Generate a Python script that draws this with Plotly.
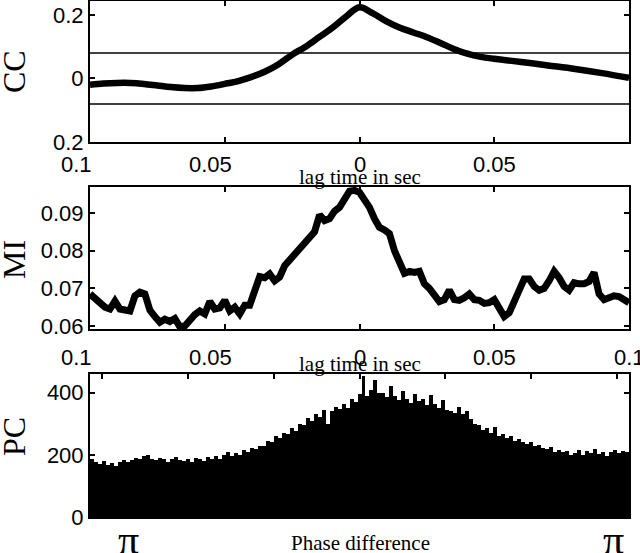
import numpy as np
import plotly.graph_objects as go

# ---------------- data ----------------
cc_lag = [-0.100, -0.095, -0.090, -0.085, -0.080, -0.075, -0.070, -0.065, -0.060, -0.055,
          -0.050, -0.045, -0.040, -0.035, -0.030, -0.025, -0.020, -0.015, -0.010, -0.005,
          0.000, 0.005, 0.010, 0.015, 0.020, 0.025, 0.030, 0.035, 0.040, 0.045,
          0.050, 0.060, 0.070, 0.080, 0.090, 0.100]
cc_val = [-0.020, -0.016, -0.014, -0.014, -0.017, -0.022, -0.027, -0.030, -0.030, -0.025,
          -0.017, -0.008, 0.005, 0.022, 0.045, 0.075, 0.100, 0.130, 0.160, 0.195,
          0.224, 0.205, 0.180, 0.160, 0.145, 0.130, 0.112, 0.093, 0.078, 0.068,
          0.062, 0.052, 0.041, 0.030, 0.017, 0.002]
cc_threshold = [0.08, -0.08]

mi_val = [0.0685, 0.0672, 0.0660, 0.0650, 0.0645, 0.0666, 0.0645, 0.0642, 0.0640, 0.0680,
          0.0690, 0.0685, 0.0642, 0.0625, 0.0610, 0.0618, 0.0612, 0.0620, 0.0598, 0.0600,
          0.0618, 0.0630, 0.0640, 0.0632, 0.0665, 0.0645, 0.0648, 0.0668, 0.0640, 0.0650,
          0.0632, 0.0655, 0.0655, 0.0700, 0.0731, 0.0728, 0.0738, 0.0720, 0.0730, 0.0760,
          0.0775, 0.0790, 0.0810, 0.0820, 0.0840, 0.0850, 0.0895, 0.0880, 0.0885, 0.0905,
          0.0915, 0.0935, 0.0958, 0.0960, 0.0955, 0.0935, 0.0915, 0.0885, 0.0862, 0.0855,
          0.0845, 0.0800, 0.0770, 0.0740, 0.0745, 0.0742, 0.0745, 0.0712, 0.0700, 0.0680,
          0.0665, 0.0670, 0.0695, 0.0670, 0.0668, 0.0675, 0.0685, 0.0670, 0.0668, 0.0660,
          0.0662, 0.0670, 0.0650, 0.0625, 0.0635, 0.0665, 0.0690, 0.0725, 0.0725, 0.0705,
          0.0695, 0.0700, 0.0720, 0.0745, 0.0728, 0.0705, 0.0695, 0.0715, 0.0712, 0.0712,
          0.0718, 0.0742, 0.0685, 0.0670, 0.0675, 0.0680, 0.0678, 0.0670, 0.0662]
mi_lag = np.linspace(-0.1, 0.1, len(mi_val))

pc_count = [185, 178, 172, 180, 168, 175, 165, 178, 182, 176, 184, 190, 186, 195, 200, 188,
            182, 190, 185, 176, 188, 194, 182, 180, 186, 178, 190, 185, 180, 192, 186, 195,
            188, 200, 210, 195,
            205, 198, 215, 210, 222, 218, 230,
            228, 245, 240, 262, 255, 270, 266, 285, 278, 300,
            295, 318, 310, 330, 322, 345, 300, 340, 355, 348,
            362, 350, 380, 370, 395, 455, 388, 410, 440, 398,
            400, 385, 420, 390, 375, 405, 380, 368, 395, 372,
            380, 360, 392, 365, 350, 375, 345, 340, 335, 355,
            330, 342, 315, 300, 295, 280, 285, 270, 290, 262,
            268, 255, 260, 245, 252, 240, 235, 242, 228, 232,
            222, 218, 225, 210, 215, 208, 212, 198, 206, 214,
            200, 212, 205, 218, 202, 210, 196, 208, 215, 205, 212, 208]
pc_edges = np.linspace(-np.pi, np.pi, len(pc_count) + 1)
pc_phase = (pc_edges[:-1] + pc_edges[1:]) / 2

lag_ticks = [-0.1, -0.05, 0, 0.05, 0.1]
lag_text_top = ["0.1", "0.05", "0", "0.05", ""]
lag_text_mid = ["0.1", "0.05", "0", "0.05", "0.1"]

# ---------------- figure ----------------
W, H = 640, 553
SANS = "Liberation Sans, Arial, sans-serif"
SERIF = "Liberation Serif, Times New Roman, serif"

def px_x(p):
    return p / W

def px_y(p):
    return 1 - p / H

xdom = [px_x(90), px_x(629)]
dom1 = [px_y(142), px_y(1)]
dom2 = [px_y(329), px_y(187)]
dom3 = [px_y(517), px_y(374)]

fig = go.Figure()
fig.add_trace(go.Scatter(x=cc_lag, y=cc_val, mode="lines", line=dict(color="black", width=6.5, shape="spline"),
                         xaxis="x", yaxis="y", showlegend=False))
for t in cc_threshold:
    fig.add_trace(go.Scatter(x=[-0.1, 0.1], y=[t, t], mode="lines", line=dict(color="black", width=1.5),
                             xaxis="x", yaxis="y", showlegend=False))
fig.add_trace(go.Scatter(x=mi_lag, y=mi_val, mode="lines", line=dict(color="black", width=7),
                         xaxis="x2", yaxis="y2", showlegend=False))
fig.add_trace(go.Bar(x=pc_phase, y=pc_count, marker=dict(color="black", line=dict(width=0)),
                     xaxis="x3", yaxis="y3", showlegend=False))

axis_common = dict(showline=True, linecolor="black", linewidth=2, mirror="ticks", ticks="inside",
                   ticklen=5, tickwidth=1.5, tickcolor="black", showgrid=False, zeroline=False,
                   automargin=False,
                   tickfont=dict(family=SANS, size=22, color="black"))

fig.update_layout(
    template="none",
    width=W, height=H, margin=dict(l=0, r=0, t=0, b=0, pad=0),
    paper_bgcolor="white", plot_bgcolor="white", bargap=0,
    xaxis=dict(domain=xdom, anchor="y", range=[-0.1, 0.1], tickvals=lag_ticks, showticklabels=False, **axis_common),
    yaxis=dict(domain=dom1, anchor="x", range=[-0.2, 0.244], tickvals=[-0.2, 0, 0.2], ticktext=["0.2", "0", "0.2"], **axis_common),
    xaxis2=dict(domain=xdom, anchor="y2", range=[-0.1, 0.1], tickvals=lag_ticks, showticklabels=False, **axis_common),
    yaxis2=dict(domain=dom2, anchor="x2", range=[0.0592, 0.0969], tickvals=[0.06, 0.07, 0.08, 0.09],
                ticktext=["0.06", "0.07", "0.08", "0.09"], **axis_common),
    xaxis3=dict(domain=xdom, anchor="y3", range=[-np.pi, np.pi], tickvals=[-3, -2, -1, 0, 1, 2, 3],
                showticklabels=False, **axis_common),
    yaxis3=dict(domain=dom3, anchor="x3", range=[0, 460], tickvals=[0, 200, 400], **axis_common),
)

# x tick labels (the negative ones sit a little to the left, as in the source)
for xref, texts, ypix in (("x", lag_text_top, 165), ("x2", lag_text_mid, 357)):
    for v, t in zip(lag_ticks, texts):
        if not t:
            continue
        fig.add_annotation(xref=xref, yref="paper", x=v, y=px_y(ypix), text=t, showarrow=False,
                           xanchor="center", yanchor="middle", xshift=-14 if v < 0 else 0,
                           font=dict(family=SANS, size=22, color="black"))

annots = [
    dict(text="lag time in sec", x=px_x(360), y=px_y(177), font=dict(family=SERIF, size=21)),
    dict(text="lag time in sec", x=px_x(360), y=px_y(364), font=dict(family=SERIF, size=21)),
    dict(text="Phase difference", x=px_x(360), y=px_y(543), font=dict(family=SERIF, size=21)),
    dict(text="CC", x=px_x(14), y=px_y(72), font=dict(family=SERIF, size=32), textangle=-90),
    dict(text="MI", x=px_x(14), y=px_y(260), font=dict(family=SERIF, size=32), textangle=-90),
    dict(text="PC", x=px_x(14), y=px_y(437), font=dict(family=SERIF, size=32), textangle=-90),
    dict(text="π", x=px_x(128), y=px_y(540), font=dict(family=SERIF, size=42)),
    dict(text="π", x=px_x(613), y=px_y(540), font=dict(family=SERIF, size=42)),
]
for a in annots:
    a.setdefault("textangle", 0)
    a["font"]["color"] = "black"
    fig.add_annotation(xref="paper", yref="paper", showarrow=False, xanchor="center", yanchor="middle", **a)

fig.write_html("out.html")
